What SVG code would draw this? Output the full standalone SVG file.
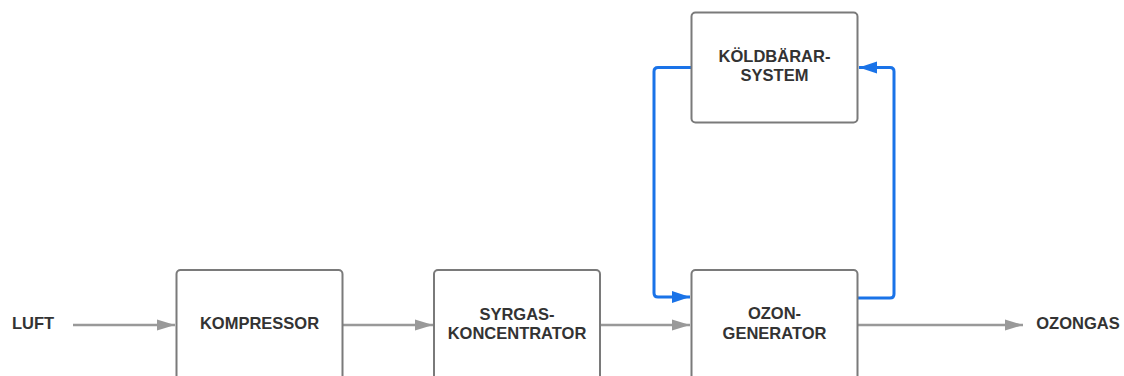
<svg xmlns="http://www.w3.org/2000/svg" width="1124" height="376" viewBox="0 0 1124 376">
<style>
.box{fill:#fff;stroke:#7a7a7a;stroke-width:2}
.t{font-family:"Liberation Sans",Arial,sans-serif;font-weight:bold;font-size:16.5px;fill:#333;text-anchor:middle}
.g{fill:none;stroke:#999;stroke-width:2.5}
.b{fill:none;stroke:#1a73e8;stroke-width:3;stroke-linejoin:round}
</style>
<defs>
<marker id="ag" markerUnits="userSpaceOnUse" markerWidth="20" markerHeight="14" refX="18" refY="6" orient="auto"><polygon points="0,0.5 18,6 0,11.5" fill="#999"/></marker>
<marker id="ab" markerUnits="userSpaceOnUse" markerWidth="20" markerHeight="14" refX="18" refY="6" orient="auto"><polygon points="0,0 18,6 0,12" fill="#1a73e8"/></marker>
</defs>
<rect width="1124" height="376" fill="#fff"/>
<g id="connectors">
<line class="g" x1="73" y1="325" x2="175" y2="325" marker-end="url(#ag)"/>
<line class="g" x1="343" y1="325" x2="433" y2="325" marker-end="url(#ag)"/>
<line class="g" x1="601" y1="325" x2="690" y2="325" marker-end="url(#ag)"/>
<line class="g" x1="858" y1="325" x2="1023" y2="325" marker-end="url(#ag)"/>
<path class="b" d="M691,67.5 H658 Q654,67.5 654,71.5 V293 Q654,297 658,297 H690" marker-end="url(#ab)"/>
<path class="b" d="M858,298 H890 Q894,298 894,294 V71.5 Q894,67.5 890,67.5 H859" marker-end="url(#ab)"/>
</g>
<g id="luft"><text class="t" x="33" y="329">LUFT</text></g>
<g id="kompressor"><rect class="box" x="176.5" y="270" width="166" height="115" rx="4"/><text class="t" x="259.5" y="329">KOMPRESSOR</text></g>
<g id="syrgas"><rect class="box" x="434" y="270" width="166" height="115" rx="4"/><text class="t" x="517" y="319.5">SYRGAS-</text><text class="t" x="517" y="338.5">KONCENTRATOR</text></g>
<g id="ozon"><rect class="box" x="691.5" y="270" width="166" height="115" rx="4"/><text class="t" x="774.5" y="319">OZON-</text><text class="t" x="774.5" y="338.5">GENERATOR</text></g>
<g id="koldbarar"><rect class="box" x="691.5" y="12.5" width="166" height="110" rx="4"/><text class="t" x="774.5" y="61.5">KÖLDBÄRAR-</text><text class="t" x="774.5" y="81">SYSTEM</text></g>
<g id="ozongas"><text class="t" x="1078" y="329">OZONGAS</text></g>
</svg>
